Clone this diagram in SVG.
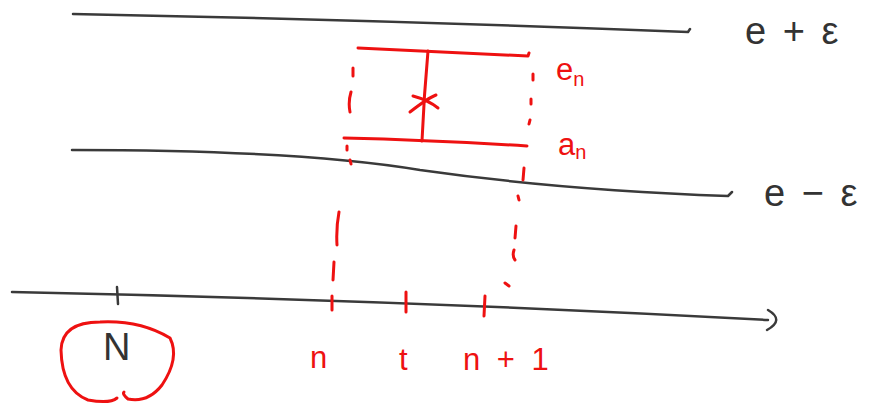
<svg xmlns="http://www.w3.org/2000/svg" width="876" height="411" viewBox="0 0 876 411">
<style>
.blk{fill:none;stroke:#3a3a3a;stroke-width:2.5;stroke-linecap:round;stroke-linejoin:round}
.red{fill:none;stroke:#ee1111;stroke-width:3;stroke-linecap:round;stroke-linejoin:round}
.dash{fill:none;stroke:#ee1111;stroke-width:3;stroke-linecap:round}
.tb{font-family:"Liberation Sans","DejaVu Sans",sans-serif;fill:#333;font-size:38px;letter-spacing:3px}
.tr{font-family:"Liberation Sans","DejaVu Sans",sans-serif;fill:#ee1111;font-size:31px}
</style>
<rect width="876" height="411" fill="#fff"/>
<g id="connectors">
  <path class="blk" d="M73 14 Q380 20 688 32 L690 29"/>
  <path class="blk" d="M72 150 Q300 150 420 170 Q560 190 728 196 L732 192"/>
  <path class="blk" d="M12 292 Q400 300 768 320"/>
  <path class="blk" d="M768 310 Q785 320 767 330"/>
  <path class="blk" d="M117 287 L118 304"/>
  <path class="dash" d="M353 68 L353 76 M351 92 Q348 102 350 112 M347 146 L347 150 M350 160 L351 164 M339 212 Q336 228 337 245 M334 262 L333 280 M332 296 L332 310"/>
  <path class="dash" d="M533 74 L533 80 M531 99 L531 104 M530 120 L529 124 M524 168 L523 180 M518 196 L519 200 M516 226 L515 238 M514 250 Q512 256 515 260 M505 283 L509 286"/>
  <path class="red" d="M406 292 L406 312 M485 296 L484 316"/>
</g>
<g id="box">
  <path class="red" d="M358 48 Q440 52 528 56 L529 53"/>
  <path class="red" d="M344 138 Q430 140 527 146"/>
  <path class="red" d="M428 51 Q424 95 422 141"/>
  <path class="red" d="M410 112 Q428 98 436 95 M413 96 Q428 100 438 108"/>
</g>
<g id="labels-right">
  <text class="tb" x="745" y="44">e + ε</text>
  <text class="tb" x="764" y="206">e − ε</text>
</g>
<g id="labels-box">
  <text class="tr" x="556" y="80">e<tspan font-size="20" dy="6">n</tspan></text>
  <text class="tr" x="558" y="155">a<tspan font-size="20" dy="4">n</tspan></text>
</g>
<g id="labels-axis">
  <text class="tr" x="310" y="368">n</text>
  <text class="tr" x="399" y="370">t</text>
  <text class="tr" x="463" y="370" letter-spacing="4">n + 1</text>
</g>
<g id="N-node">
  <path class="red" d="M117 398 Q110 404 88 400 Q62 390 61 350 Q62 322 100 322 Q140 320 170 338 Q180 358 162 385 Q148 403 128 399 Q122 394 124 392"/>
  <text class="tb" x="103" y="360" font-size="26" letter-spacing="0">N</text>
</g>
</svg>
